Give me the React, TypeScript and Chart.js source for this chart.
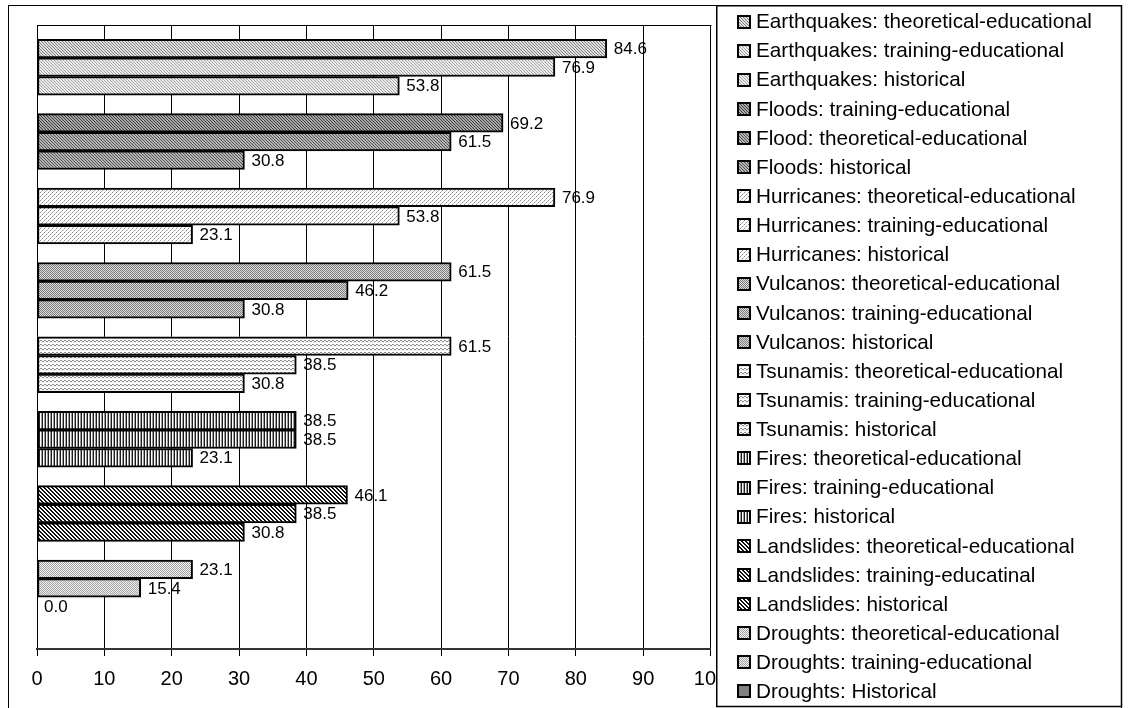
import React, { useEffect, useRef } from 'react';
import { Chart, registerables } from 'chart.js';

Chart.register(...registerables);

// ---------- data ----------
const categories = ['Earthquakes', 'Floods', 'Hurricanes', 'Vulcanos', 'Tsunamis', 'Fires', 'Landslides', 'Droughts'];
const firstValues = [84.6, 69.2, 76.9, 61.5, 61.5, 38.5, 46.1, 23.1];
const secondValues = [76.9, 61.5, 53.8, 46.2, 38.5, 38.5, 38.5, 15.4];
const thirdValues = [53.8, 30.8, 23.1, 30.8, 30.8, 23.1, 30.8, 0.0];
const firstLabels = [
  'Earthquakes: theoretical-educational',
  'Floods: training-educational',
  'Hurricanes: theoretical-educational',
  'Vulcanos: theoretical-educational',
  'Tsunamis: theoretical-educational',
  'Fires: theoretical-educational',
  'Landslides: theoretical-educational',
  'Droughts: theoretical-educational',
];
const secondLabels = [
  'Earthquakes: training-educational',
  'Flood: theoretical-educational',
  'Hurricanes: training-educational',
  'Vulcanos: training-educational',
  'Tsunamis: training-educational',
  'Fires: training-educational',
  'Landslides: training-educatinal',
  'Droughts: training-educational',
];
const thirdLabels = [
  'Earthquakes: historical',
  'Floods: historical',
  'Hurricanes: historical',
  'Vulcanos: historical',
  'Tsunamis: historical',
  'Fires: historical',
  'Landslides: historical',
  'Droughts: Historical',
];

const FONT = "'Liberation Sans', Arial, Helvetica, sans-serif";

// ---------- patterns ----------
type Setter = (x: number, y: number, c: string) => void;
function tile(w: number, h: number, bg: string, paint: (set: Setter) => void): CanvasPattern | string {
  const c = document.createElement('canvas');
  c.width = w;
  c.height = h;
  const g = c.getContext('2d');
  if (!g) return bg;
  g.fillStyle = bg;
  g.fillRect(0, 0, w, h);
  paint((x, y, col) => {
    g.fillStyle = col;
    g.fillRect(x, y, 1, 1);
  });
  return g.createPattern(c, 'repeat') || bg;
}

function diag(size: number, bg: string, fg: string, width: number) {
  return tile(size, size, bg, (set) => {
    for (let y = 0; y < size; y++)
      for (let x = 0; x < size; x++) {
        const d = (((x - y) % size) + size) % size;
        if (d < width) set(x, y, fg);
      }
  });
}
function checker(a: string, b: string) {
  return tile(2, 2, b, (set) => {
    set(0, 0, a);
    set(1, 1, a);
  });
}

function buildPatterns(): (CanvasPattern | string)[][] {
  const eqDark = diag(3, '#e0e0e0', '#808080', 1);
  const eqLight = diag(3, '#ececec', '#a4a4a4', 1);
  const flDark = diag(3, '#a8a8a8', '#3c3c3c', 1);
  const flLight = diag(3, '#b4b4b4', '#545454', 1);
  const hur = tile(4, 4, '#ffffff', (set) => {
    set(0, 0, '#8a8a8a');
    set(2, 2, '#8a8a8a');
    set(1, 3, '#c4c4c4');
    set(3, 1, '#c4c4c4');
  });
  const vul = checker('#7c7c7c', '#dcdcdc');
  const tsu = tile(4, 4, '#ffffff', (set) => {
    set(0, 0, '#8c8c8c');
    set(1, 0, '#8c8c8c');
    set(2, 1, '#8c8c8c');
    set(3, 1, '#8c8c8c');
    for (let x = 0; x < 4; x++) set(x, 2, '#ececec');
  });
  const fire = tile(3, 1, '#ffffff', (set) => {
    set(0, 0, '#1c1c1c');
    set(2, 0, '#9c9c9c');
  });
  const land = diag(4, '#ffffff', '#111111', 2);
  const dro = tile(4, 4, '#f2f2f2', (set) => {
    for (let y = 0; y < 4; y++)
      for (let x = 0; x < 4; x++) if ((x + y) % 2 === 0) set(x, y, '#a2a2a2');
  });
  return [
    [eqDark, eqLight, eqLight],
    [flDark, flLight, flLight],
    [hur, hur, hur],
    [vul, vul, vul],
    [tsu, tsu, tsu],
    [fire, fire, fire],
    [land, land, land],
    [dro, dro, '#808080'],
  ];
}

// ---------- plugins ----------
const framePlugin = {
  id: 'frame',
  beforeDraw(chart: any) {
    const ctx = chart.ctx;
    ctx.save();
    ctx.fillStyle = '#ffffff';
    ctx.fillRect(0, 0, chart.width, chart.height);
    ctx.strokeStyle = '#000';
    ctx.lineWidth = 1;
    ctx.strokeRect(8.5, 5.5, 1113, 740);
    ctx.restore();
  },
};

const valueLabelPlugin = {
  id: 'valueLabels',
  afterDatasetsDraw(chart: any) {
    const ctx = chart.ctx;
    ctx.save();
    ctx.font = `17px ${FONT}`;
    ctx.fillStyle = '#000';
    ctx.textAlign = 'left';
    ctx.textBaseline = 'middle';
    chart.data.datasets.forEach((ds: any, di: number) => {
      const meta = chart.getDatasetMeta(di);
      meta.data.forEach((el: any, i: number) => {
        const v = ds.data[i].x;
        if (v === null || v === undefined) return;
        ctx.fillText(v.toFixed(1), el.x + 7, el.y + 1);
      });
    });
    ctx.restore();
  },
};

const boxLegendPlugin = {
  id: 'boxLegend',
  afterDraw(chart: any) {
    const ctx = chart.ctx;
    const { left, right, top } = chart.chartArea;
    ctx.save();
    // top border of plot area
    ctx.strokeStyle = '#000';
    ctx.lineWidth = 1;
    ctx.beginPath();
    ctx.moveTo(left, Math.round(top) + 0.5);
    ctx.lineTo(right + 1, Math.round(top) + 0.5);
    ctx.stroke();

    // legend box
    const bx = 716, by = 5, bw = 405.5, bh = 701.5;
    ctx.fillStyle = '#ffffff';
    ctx.fillRect(bx, by, bw, bh);
    ctx.strokeStyle = '#000';
    ctx.lineWidth = 1.5;
    ctx.strokeRect(bx + 0.75, by + 0.75, bw - 0.75, bh - 0.75);

    ctx.font = `20.7px ${FONT}`;
    ctx.textAlign = 'left';
    ctx.textBaseline = 'middle';
    const rowTop = 21.5;
    const pitch = 29.13;
    chart.data.datasets.forEach((ds: any, i: number) => {
      const cy = rowTop + i * pitch;
      ctx.fillStyle = ds.backgroundColor;
      ctx.fillRect(737, Math.round(cy - 7), 14, 14);
      ctx.strokeStyle = '#000';
      ctx.lineWidth = 2;
      ctx.strokeRect(738, Math.round(cy - 7) + 1, 12, 12);
      ctx.fillStyle = '#000';
      ctx.fillText(ds.label, 756, cy + 1);
    });
    ctx.restore();
  },
};

export default function App() {
  const canvasRef = useRef<HTMLCanvasElement | null>(null);

  useEffect(() => {
    const canvas = canvasRef.current;
    if (!canvas) return;
    const patterns = buildPatterns();
    const valueSets = [firstValues, secondValues, thirdValues];
    const labelSets = [firstLabels, secondLabels, thirdLabels];
    const datasets: any[] = [];
    categories.forEach((_, c) => {
      for (let s = 0; s < 3; s++) {
        datasets.push({
          label: labelSets[s][c],
          data: categories.map((__, i) => ({ x: i === c ? valueSets[s][c] : null, y: i })),
          backgroundColor: patterns[c][s],
          borderColor: '#000',
          borderWidth: 2,
          borderSkipped: false,
          barThickness: 18.6,
          skipNull: true,
        });
      }
    });

    const chart = new Chart(canvas, {
      type: 'bar',
      data: { datasets },
      options: {
        indexAxis: 'y',
        responsive: false,
        animation: false,
        layout: { padding: { left: 37, right: 418.5, top: 25, bottom: 6 } },
        plugins: {
          legend: { display: false },
          tooltip: { enabled: false },
          title: { display: false },
        },
        scales: {
          x: {
            type: 'linear',
            min: 0,
            max: 100,
            ticks: {
              stepSize: 10,
              color: '#000',
              padding: 11,
              font: { family: FONT, size: 20 },
            },
            grid: {
              color: '#000',
              lineWidth: 1,
              drawTicks: true,
              tickLength: 7,
              tickColor: '#000',
            },
            border: { display: true, color: '#333', width: 2 },
          },
          y: {
            type: 'linear',
            display: false,
            offset: false,
            grid: { offset: false },
            reverse: true,
            min: -0.567,
            max: 7.82,
            afterBuildTicks: (scale: any) => {
              scale.ticks = categories.map((__, i) => ({ value: i }));
            },
          },
        },
      } as any,
      plugins: [framePlugin, valueLabelPlugin, boxLegendPlugin],
    });
    return () => chart.destroy();
  }, []);

  return (
    <div style={{ position: 'absolute', left: 0, top: 0, width: 1129, height: 708 }}>
      <canvas ref={canvasRef} width={1129} height={708} style={{ display: 'block' }} />
    </div>
  );
}
